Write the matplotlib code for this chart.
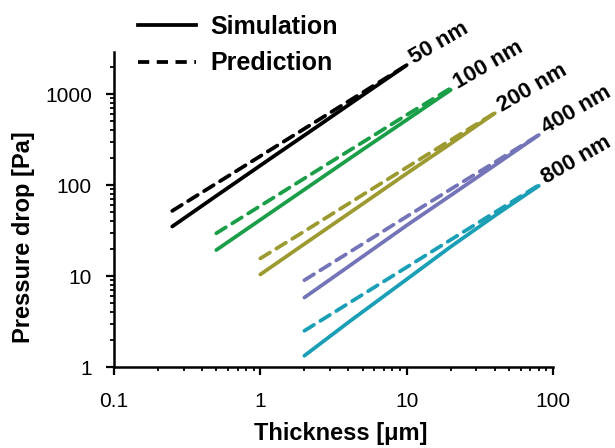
import matplotlib.pyplot as plt

plt.rcParams['font.family'] = ['Liberation Sans', 'DejaVu Sans']

# fibre diameters and their colours
labels = ['50 nm', '100 nm', '200 nm', '400 nm', '800 nm']
colors = ['#000000', '#1a9e48', '#9c9a30', '#7474b8', '#1a9fb6']

# thickness [um]
t_50 = [0.25, 0.5, 1.25, 2.5, 5, 10]
t_100 = [0.5, 1, 2.5, 5, 10, 20]
t_200 = [1, 2, 5, 10, 20, 40]
t_400 = [2, 4, 10, 20, 40, 80]
t_800 = [2, 4, 10, 20, 40, 80]

# simulated pressure drop [Pa]
sim_50 = [35, 76, 210, 450, 970, 2080]
sim_100 = [19.3, 41.5, 114, 245, 520, 1110]
sim_200 = [10.4, 22.5, 62, 134, 285, 615]
sim_400 = [5.8, 12.7, 36, 77, 165, 355]
sim_800 = [1.33, 3.1, 9.2, 21, 46, 98]

# predicted pressure drop [Pa]
pred_50 = [52, 104, 260, 520, 1040, 2080]
pred_100 = [29.5, 59, 148, 295, 590, 1160]
pred_200 = [15.6, 31, 78, 156, 312, 620]
pred_400 = [9.0, 18, 45, 90, 178, 355]
pred_800 = [2.5, 5, 12.5, 25, 50, 100]

thick = [t_50, t_100, t_200, t_400, t_800]
sims = [sim_50, sim_100, sim_200, sim_400, sim_800]
preds = [pred_50, pred_100, pred_200, pred_400, pred_800]

fig = plt.figure(figsize=(6.15, 4.48), dpi=100)
ax = fig.add_axes([114 / 615, 81 / 448, 439 / 615, 315 / 448])

lw = 2.7
dash = (3.0, 2.0)
for t, s, p, c, lab in zip(thick, sims, preds, colors, labels):
    ax.plot(t, p, color=c, lw=lw, dashes=dash, dash_capstyle='round')
    ax.plot(t, s, color=c, lw=lw, solid_capstyle='round')
    ax.annotate(lab, (t[-1], s[-1]), xytext=(5, 1), textcoords='offset points',
                rotation=30, rotation_mode='anchor', ha='left', va='baseline',
                fontsize=16, fontweight='bold', annotation_clip=False)

ax.set_xscale('log')
ax.set_yscale('log')
ax.set_xlim(0.1, 100)
ax.set_ylim(1, 2900)
ax.set_xticks([0.1, 1, 10, 100])
ax.set_xticklabels(['0.1', '1', '10', '100'])
ax.set_yticks([1, 10, 100, 1000])
ax.set_yticklabels(['1', '10', '100', '1000'])

for side in ['top', 'right']:
    ax.spines[side].set_visible(False)
for side in ['left', 'bottom']:
    ax.spines[side].set_linewidth(1.8)
ax.tick_params(which='major', direction='out', length=6, width=1.6, labelsize=15)
ax.tick_params(axis='x', which='major', pad=12)
ax.tick_params(axis='y', which='major', pad=10)
ax.tick_params(which='minor', direction='out', length=3, width=1.3)

ax.set_xlabel('Thickness [μm]', fontsize=17, fontweight='bold')
ax.set_ylabel('Pressure drop [Pa]', fontsize=17, fontweight='bold')
ax.xaxis.set_label_coords(0.517, -0.175)
ax.yaxis.set_label_coords(-0.18, 0.413)

# legend in black, above the plot area
h1, = ax.plot([], [], color='k', lw=lw, label='Simulation')
h2, = ax.plot([], [], color='k', lw=lw, dashes=dash, label='Prediction')
fig.legend(handles=[h1, h2], loc='upper left', bbox_to_anchor=(128 / 615, 1 - 5 / 448),
           frameon=False, prop={'size': 18, 'weight': 'bold'}, handlelength=2.3,
           handletextpad=0.6, labelspacing=0.5, borderaxespad=0)

fig.savefig('out.png', dpi=100)
